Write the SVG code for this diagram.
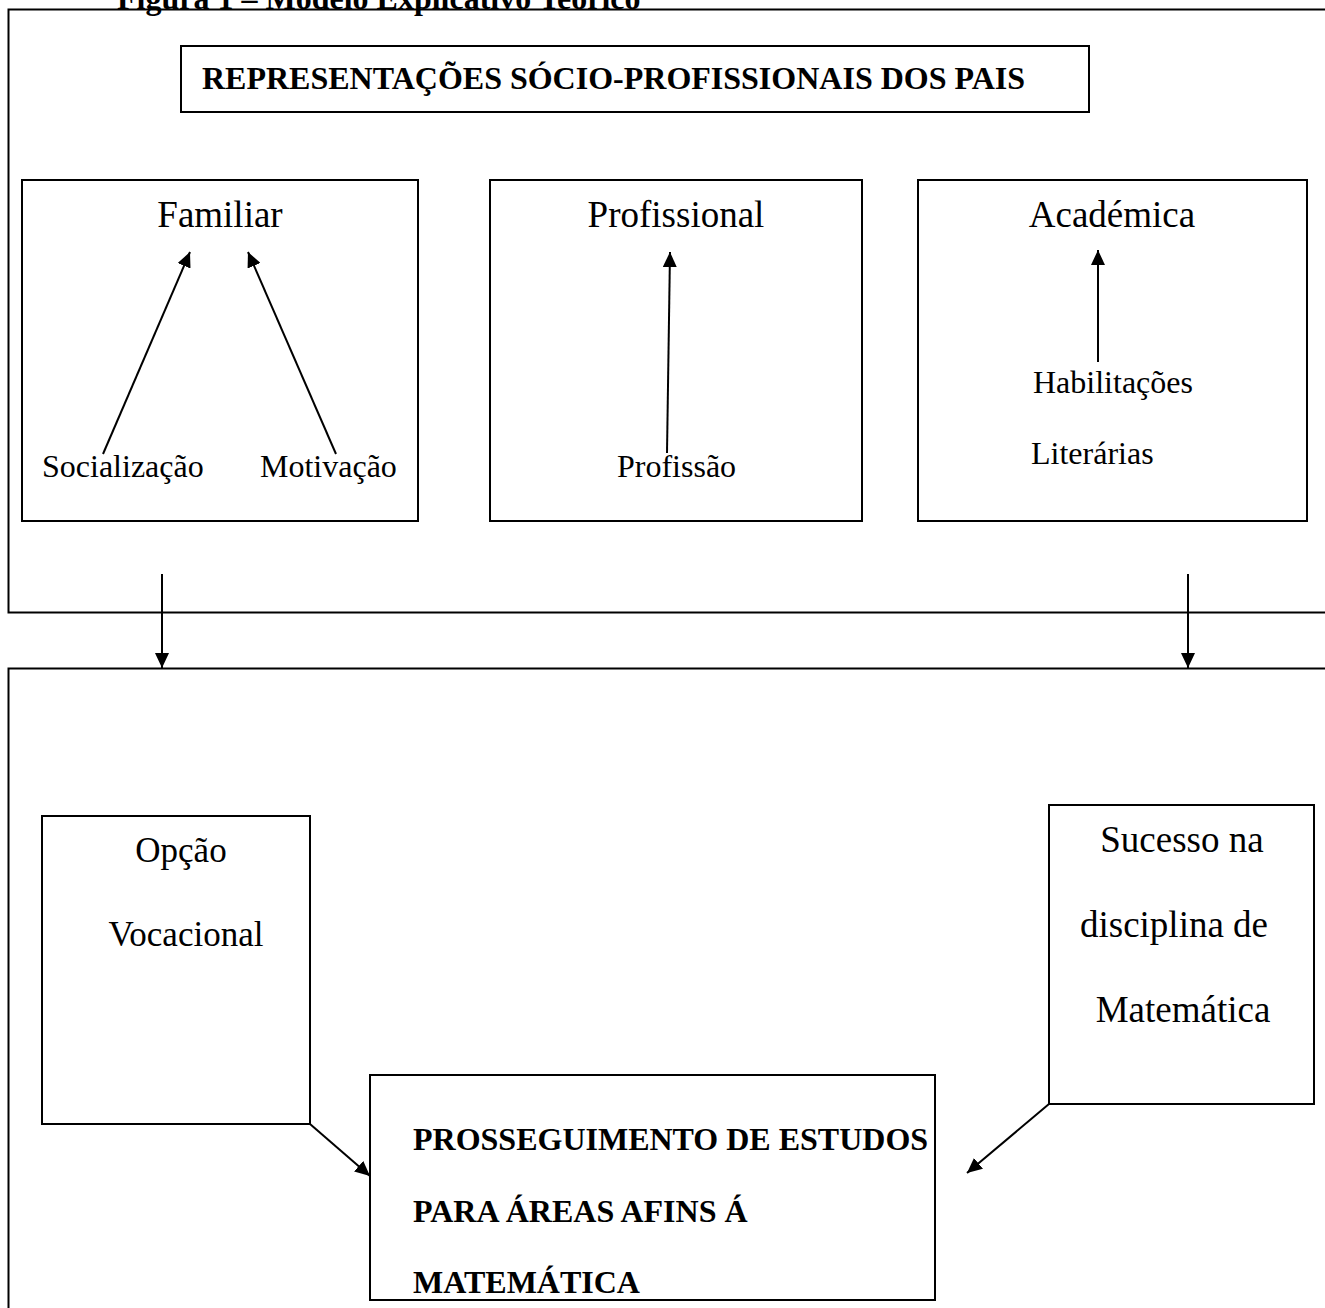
<svg xmlns="http://www.w3.org/2000/svg" width="1325" height="1308" viewBox="0 0 1325 1308">
<defs>
<marker id="ah" markerUnits="userSpaceOnUse" markerWidth="16" markerHeight="14" refX="15" refY="7" orient="auto">
<path d="M0,0 L15,7 L0,14 Z" fill="#000"/>
</marker>
<style>
.box{fill:none;stroke:#000;stroke-width:2}
.t{font-family:"Liberation Serif","Times New Roman",serif;fill:#000}
.b{font-weight:bold;font-size:32px}
.h{font-size:37px}
.s{font-size:32px}
.c{text-anchor:middle}
.ln{stroke:#000;stroke-width:2;fill:none;marker-end:url(#ah)}
</style>
</defs>
<rect width="1325" height="1308" fill="#fff"/>
<g id="outer-top"><rect class="box" x="8.5" y="9.5" width="1330" height="603"/></g>
<g id="outer-bottom"><rect class="box" x="8.5" y="668.5" width="1330" height="660"/></g>
<text class="t b" x="117" y="9">Figura 1 – Modelo Explicativo Teórico</text>
<g id="rep"><rect class="box" x="181" y="46" width="908" height="66"/><text class="t b" x="202" y="89">REPRESENTAÇÕES SÓCIO-PROFISSIONAIS DOS PAIS</text></g>
<g id="familiar"><rect class="box" x="22" y="180" width="396" height="341"/><text class="t h c" x="220" y="227">Familiar</text>
<text class="t s" x="42" y="477">Socialização</text><text class="t s" x="260" y="477">Motivação</text></g>
<g id="profissional"><rect class="box" x="490" y="180" width="372" height="341"/><text class="t h c" x="676" y="227">Profissional</text>
<text class="t s" x="617" y="477">Profissão</text></g>
<g id="academica"><rect class="box" x="918" y="180" width="389" height="341"/><text class="t h c" x="1112" y="227">Académica</text>
<text class="t s" x="1033" y="393">Habilitações</text><text class="t s" x="1031" y="464">Literárias</text></g>
<g id="opcao"><rect class="box" x="42" y="816" width="268" height="308"/><text class="t c" style="font-size:35px" x="181" y="862">Opção</text><text class="t c" style="font-size:35px" x="186" y="946">Vocacional</text></g>
<g id="sucesso"><rect class="box" x="1049" y="805" width="265" height="299"/><text class="t h c" x="1182" y="852">Sucesso na</text><text class="t h c" x="1174" y="937">disciplina de</text><text class="t h c" x="1183" y="1022">Matemática</text></g>
<g id="prosseguimento"><rect class="box" x="370" y="1075" width="565" height="225"/><text class="t b" x="413" y="1150">PROSSEGUIMENTO DE ESTUDOS</text><text class="t b" x="413" y="1222">PARA ÁREAS AFINS Á</text><text class="t b" x="413" y="1293">MATEMÁTICA</text></g>
<g id="connectors">
<line class="ln" x1="103" y1="454" x2="190" y2="252"/>
<line class="ln" x1="336" y1="454" x2="248" y2="252"/>
<line class="ln" x1="667" y1="453" x2="670" y2="252"/>
<line class="ln" x1="1098" y1="362" x2="1098" y2="250"/>
<line class="ln" x1="162" y1="574" x2="162" y2="668"/>
<line class="ln" x1="1188" y1="574" x2="1188" y2="668"/>
<line class="ln" x1="310" y1="1124" x2="370" y2="1176"/>
<line class="ln" x1="1049" y1="1104" x2="967" y2="1173"/>
</g>
</svg>
